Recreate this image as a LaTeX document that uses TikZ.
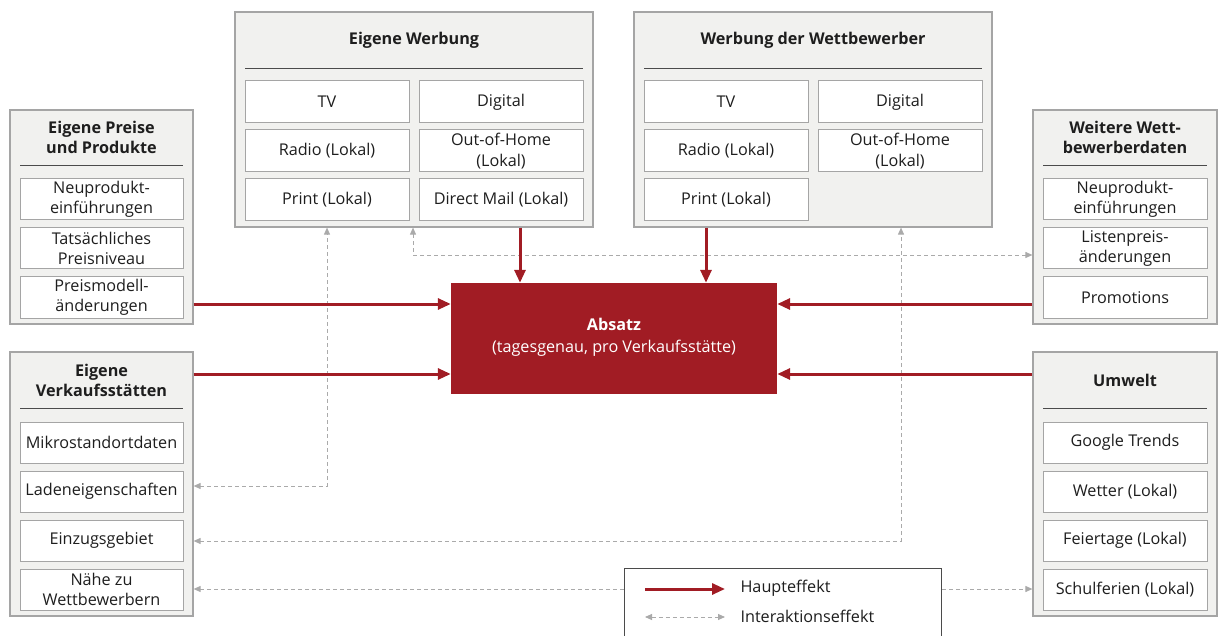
\documentclass[tikz,border=0pt]{standalone}
\usepackage{fontspec}
\setmainfont{Open Sans}
\usetikzlibrary{arrows.meta,calc}
\definecolor{boxfill}{HTML}{F1F1EF}
\definecolor{boxline}{HTML}{A5A5A5}
\definecolor{mainred}{HTML}{A11C24}
\definecolor{dashgray}{HTML}{AAAAAA}
\definecolor{txt}{HTML}{1E1E1E}
\tikzset{
  outer/.style={draw=boxline, fill=boxfill, line width=1.2pt, inner sep=0pt},
  cell/.style={draw=boxline, fill=white, line width=1pt, inner sep=0pt, align=center, text=txt,
     font=\fontsize{16.2}{20.5}\selectfont},
  ttl/.style={font=\fontsize{16.2}{20}\selectfont\bfseries, align=center, text=txt},
  rul/.style={draw=txt!80, line width=0.9pt},
  mainarr/.style={draw=mainred, line width=3pt, -{Triangle[length=13pt,width=11pt]}},
  interarr/.style={draw=dashgray, line width=0.9pt, dash pattern=on 4pt off 3pt,
     {Triangle[length=7pt,width=6pt]}-{Triangle[length=7pt,width=6pt]}},
}
\begin{document}
\begin{tikzpicture}[x=1pt,y=-1pt]
\useasboundingbox (0,0) rectangle (1223,636);

% ---- Eigene Werbung
\node[outer, minimum width=358pt, minimum height=215pt] (ew) at (414,119.5) {};
\node[ttl] (ewt) at (414,40) {Eigene Werbung};
\draw[rul] (245,68) -- (583,68);
\node[cell, minimum width=164pt, minimum height=42pt] (ew1) at (327,102) {TV};
\node[cell, minimum width=164pt, minimum height=42pt] (ew2) at (501,102) {Digital};
\node[cell, minimum width=164pt, minimum height=42pt] (ew3) at (327,151) {Radio (Lokal)};
\node[cell, minimum width=164pt, minimum height=42pt] (ew4) at (501,151) {Out-of-Home\\(Lokal)};
\node[cell, minimum width=164pt, minimum height=42pt] (ew5) at (327,200) {Print (Lokal)};
\node[cell, minimum width=164pt, minimum height=42pt] (ew6) at (501,200) {Direct Mail (Lokal)};

% ---- Werbung der Wettbewerber
\node[outer, minimum width=358pt, minimum height=215pt] (ww) at (813,119.5) {};
\node[ttl] (wwt) at (813,40) {Werbung der Wettbewerber};
\draw[rul] (644,68) -- (982,68);
\node[cell, minimum width=164pt, minimum height=42pt] (ww1) at (726,102) {TV};
\node[cell, minimum width=164pt, minimum height=42pt] (ww2) at (900,102) {Digital};
\node[cell, minimum width=164pt, minimum height=42pt] (ww3) at (726,151) {Radio (Lokal)};
\node[cell, minimum width=164pt, minimum height=42pt] (ww4) at (900,151) {Out-of-Home\\(Lokal)};
\node[cell, minimum width=164pt, minimum height=42pt] (ww5) at (726,200) {Print (Lokal)};

% ---- Eigene Preise und Produkte
\node[outer, minimum width=183pt, minimum height=214pt] (lb1) at (101.5,217) {};
\node[ttl] (lb1t) at (101.5,137.5) {Eigene Preise\\und Produkte};
\draw[rul] (20,165) -- (183,165);
\node[cell, minimum width=163pt, minimum height=41pt] (lb1a) at (101.5,199.5) {Neuprodukt-\\einführungen};
\node[cell, minimum width=163pt, minimum height=41pt] (lb1b) at (101.5,248.5) {Tatsächliches\\Preisniveau};
\node[cell, minimum width=163pt, minimum height=41pt] (lb1c) at (101.5,297.5) {Preismodell-\\änderungen};

% ---- Eigene Verkaufsstätten
\node[outer, minimum width=183pt, minimum height=264pt] (lb2) at (101.5,484) {};
\node[ttl] (lb2t) at (101.5,380.5) {Eigene\\Verkaufsstätten};
\draw[rul] (20,408) -- (183,408);
\node[cell, minimum width=163pt, minimum height=41pt] (lb2a) at (101.5,442.5) {Mikrostandortdaten};
\node[cell, minimum width=163pt, minimum height=41pt] (lb2b) at (101.5,491.5) {Ladeneigenschaften};
\node[cell, minimum width=163pt, minimum height=41pt] (lb2c) at (101.5,540.5) {Einzugsgebiet};
\node[cell, minimum width=163pt, minimum height=41pt] (lb2d) at (101.5,589.5) {Nähe zu\\Wettbewerbern};

% ---- Weitere Wettbewerberdaten
\node[outer, minimum width=184pt, minimum height=214pt] (rb1) at (1125,217) {};
\node[ttl] (rb1t) at (1125,137.5) {Weitere Wett-\\bewerberdaten};
\draw[rul] (1043,165) -- (1207,165);
\node[cell, minimum width=164pt, minimum height=41pt] (rb1a) at (1125,199.5) {Neuprodukt-\\einführungen};
\node[cell, minimum width=164pt, minimum height=41pt] (rb1b) at (1125,248.5) {Listenpreis-\\änderungen};
\node[cell, minimum width=164pt, minimum height=41pt] (rb1c) at (1125,297.5) {Promotions};

% ---- Umwelt
\node[outer, minimum width=184pt, minimum height=264pt] (rb2) at (1125,484) {};
\node[ttl] (rb2t) at (1125,380) {Umwelt};
\draw[rul] (1043,408) -- (1207,408);
\node[cell, minimum width=164pt, minimum height=41pt] (rb2a) at (1125,442.5) {Google Trends};
\node[cell, minimum width=164pt, minimum height=41pt] (rb2b) at (1125,491.5) {Wetter (Lokal)};
\node[cell, minimum width=164pt, minimum height=41pt] (rb2c) at (1125,540.5) {Feiertage (Lokal)};
\node[cell, minimum width=164pt, minimum height=41pt] (rb2d) at (1125,589.5) {Schulferien (Lokal)};

% ---- Absatz
\node[fill=mainred, minimum width=326pt, minimum height=111pt, inner sep=0pt] (abs) at (614,338.5) {};
\node[text=white, align=center, font=\fontsize{16.2}{22}\selectfont] (abst) at (614,337)
  {\textbf{Absatz}\\(tagesgenau, pro Verkaufsstätte)};

% ---- interaction effects
\draw[interarr] (lb2.east |- 0,486) -- (327,486) -- (ew.south -| 327,0);
\draw[interarr] (lb2.east |- 0,541) -- (901,541) -- (ww.south -| 901,0);
\draw[interarr] (ew.south -| 413,0) -- (413,255) -- (rb1.west |- 0,255);
\draw[interarr] (lb2.east |- 0,589) -- (rb2.west |- 0,589);

% ---- main effects
\draw[mainarr] (lb1.east |- 0,304) -- (abs.west |- 0,304);
\draw[mainarr] (lb2.east |- 0,374) -- (abs.west |- 0,374);
\draw[mainarr] (rb1.west |- 0,304) -- (abs.east |- 0,304);
\draw[mainarr] (rb2.west |- 0,374) -- (abs.east |- 0,374);
\draw[mainarr] (ew.south -| 520,0) -- (abs.north -| 520,0);
\draw[mainarr] (ww.south -| 706,0) -- (abs.north -| 706,0);

% ---- legend
\node[draw=txt!80, fill=white, line width=1pt, minimum width=317pt, minimum height=80pt, inner sep=0pt] (leg) at (782.5,608) {};
\coordinate (lm1) at (645,589);
\coordinate (lm2) at (725,589);
\coordinate (li1) at (645,617);
\coordinate (li2) at (725,617);
\draw[mainarr] (lm1) -- (lm2);
\draw[interarr] (li1) -- (li2);
\node[anchor=west, text=txt, font=\fontsize{16.2}{20}\selectfont] (legm) at (737,588) {Haupteffekt};
\node[anchor=west, text=txt, font=\fontsize{16.2}{20}\selectfont] (legi) at (737,616) {Interaktionseffekt};
\end{tikzpicture}
\end{document}
